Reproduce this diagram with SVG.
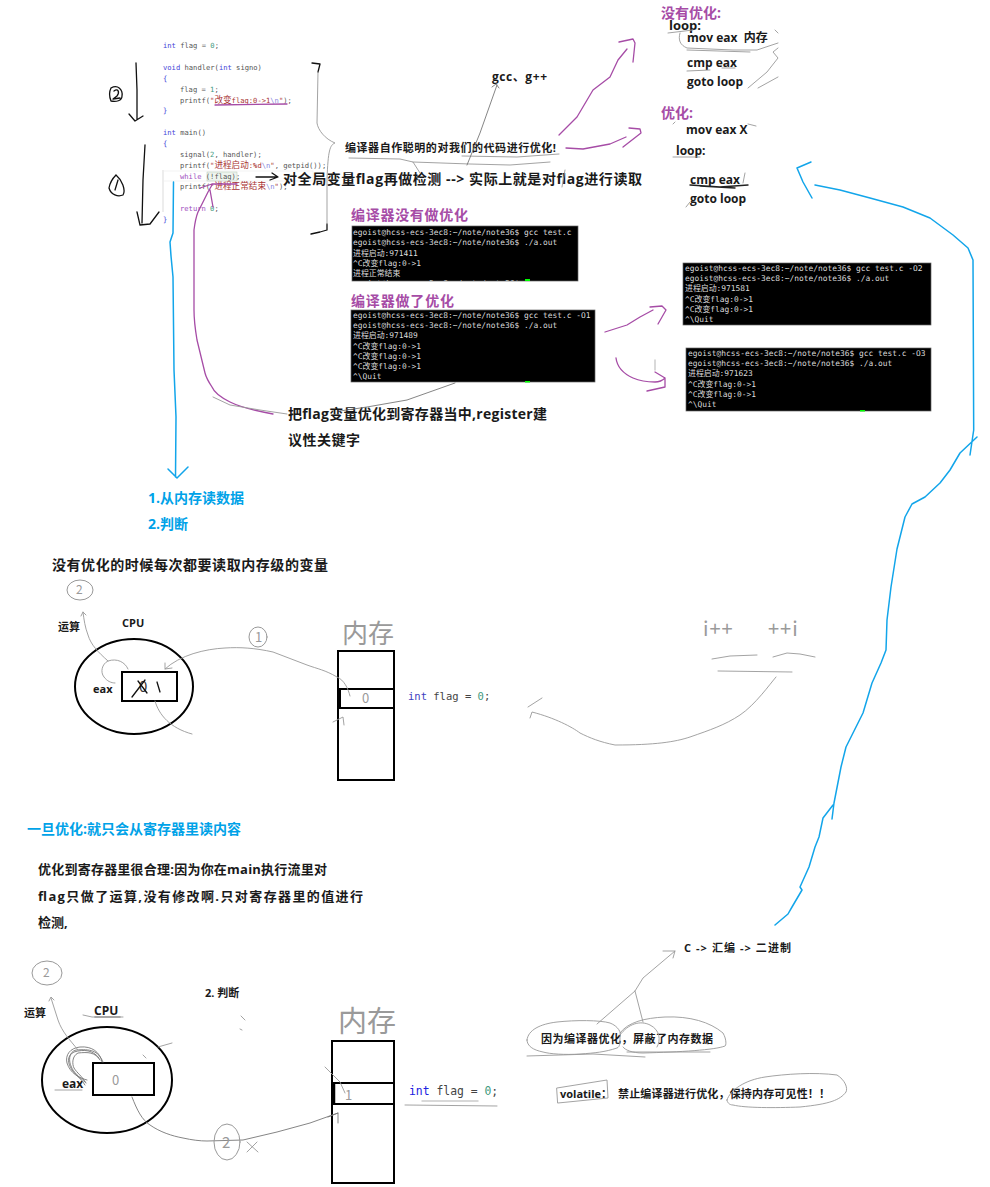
<svg xmlns="http://www.w3.org/2000/svg" width="990" height="1187" viewBox="0 0 990 1187">
<style>
text{white-space:pre}
.b{font-family:"Open Sans","Noto Sans CJK SC","Liberation Sans",sans-serif;font-weight:700;fill:#1a1a1a}
.s14{font-size:14px}.s13{font-size:13px}.s12{font-size:12px}.s11{font-size:11px}
.pur{fill:#a64ca6}.blu{fill:#00a2e8}
.code{font-family:"DejaVu Sans Mono","Noto Sans CJK SC",monospace;font-size:7.15px;fill:#555}
.kw{fill:#4646d8}.kp{fill:#a050c0}.st{fill:#a83232}.nm{fill:#3f9a80}.zh{font-family:"Noto Sans CJK SC",sans-serif;font-size:8.6px}
.term{font-family:"DejaVu Sans Mono","Noto Sans CJK SC",monospace;font-size:7.9px;fill:#dcdcdc}
.tbg{fill:#000;stroke:#666;stroke-width:.7}
.int{font-family:"DejaVu Sans Mono","Liberation Mono",monospace;fill:#444}
.hand{font-family:"Noto Sans CJK SC",sans-serif;fill:#9a9a9a}
.ln{fill:none;stroke-linecap:round;stroke-linejoin:round}
.g{stroke:#999;stroke-width:.9}.gd{stroke:#777;stroke-width:.9}.k{stroke:#111;stroke-width:1.3}
.p{stroke:#a64ca6;stroke-width:1.3}.c{stroke:#12a5ea;stroke-width:1.5}
.box{fill:#fff;stroke:#000;stroke-width:2}.cpu{fill:none;stroke:#000;stroke-width:2}
</style>
<defs><clipPath id="t1c"><rect x="352" y="226" width="226" height="55"/></clipPath></defs>
<rect width="990" height="1187" fill="#fff"/>

<g id="code">
<path d="M163 170V212" stroke="#ccc" stroke-width=".7" fill="none"/><rect x="163" y="171" width="150" height="10" fill="none" stroke="#eee" stroke-width=".7"/>
<rect x="207" y="172" width="30" height="9" fill="#eef4ee" stroke="#b5c5b5" stroke-width=".5"/>
<text class="code" x="163" y="48"><tspan class="kw">int</tspan> flag = <tspan class="nm">0</tspan>;</text>
<text class="code" x="163" y="70"><tspan class="kw">void</tspan> handler(<tspan class="kw">int</tspan> signo)</text>
<text class="code kw" x="163" y="81">{</text>
<text class="code" x="180" y="92">flag = <tspan class="nm">1</tspan>;</text>
<text class="code" x="180" y="103">printf(<tspan class="st">"<tspan class="zh">改变</tspan>flag:0-&gt;1<tspan fill="#8888dd">\n</tspan>"</tspan>);</text>
<text class="code kw" x="163" y="113">}</text>
<text class="code" x="163" y="135"><tspan class="kw">int</tspan> main()</text>
<text class="code kw" x="163" y="146">{</text>
<text class="code" x="180" y="157">signal(<tspan class="nm">2</tspan>, handler);</text>
<text class="code" x="180" y="168">printf(<tspan class="st">"<tspan class="zh">进程启动</tspan>:%d<tspan fill="#8888dd">\n</tspan>"</tspan>, getpid());</text>
<text class="code" x="180" y="179"><tspan class="kp">while</tspan> (!flag);</text>
<text class="code" x="180" y="189">printf(<tspan class="st">"<tspan class="zh">进程正常结束</tspan><tspan fill="#8888dd">\n</tspan>"</tspan>);</text>
<text class="code" x="180" y="211"><tspan class="kp">return</tspan> <tspan class="nm">0</tspan>;</text>
<text class="code kw" x="163" y="222">}</text>
</g>

<g id="labels-top">
<text class="b s12" x="492" y="81" textLength="55">gcc、g++</text>
<text class="b s11" x="345" y="152" textLength="211">编译器自作聪明的对我们的代码进行优化!</text>
<text class="b s14" x="283" y="184" textLength="359">对全局变量flag再做检测 --&gt; 实际上就是对flag进行读取</text>
<text class="b s14 pur" x="351" y="220" textLength="117">编译器没有做优化</text>
<text class="b s14 pur" x="351" y="306" textLength="103">编译器做了优化</text>
<text class="b s14" x="288" y="419" textLength="259">把flag变量优化到寄存器当中,register建</text>
<text class="b s14" x="288" y="445" textLength="72">议性关键字</text>
<text class="b s14 blu" x="148" y="503">1.从内存读数据</text>
<text class="b s14 blu" x="148" y="529">2.判断</text>
<text class="b s14" x="52" y="570" textLength="276">没有优化的时候每次都要读取内存级的变量</text>
</g>

<g id="asm-notes">
<text class="b s14 pur" x="661" y="18">没有优化:</text>
<text class="b s13" x="669" y="30">loop:</text>
<text class="b s12" x="687" y="42">mov eax  内存</text>
<text class="b s12" x="687" y="67">cmp eax</text>
<text class="b s12" x="687" y="86">goto loop</text>
<text class="b s14 pur" x="661" y="118">优化:</text>
<text class="b s12" x="686" y="134">mov eax X</text>
<text class="b s12" x="676" y="155">loop:</text>
<text class="b s12" x="690" y="184">cmp eax</text>
<text class="b s12" x="690" y="203">goto loop</text>
</g>

<g id="term-1">
<rect class="tbg" x="352" y="226" width="226" height="55"/>
<g clip-path="url(#t1c)">
<text class="term" x="353" y="235">egoist@hcss-ecs-3ec8:~/note/note36$ gcc test.c</text>
<text class="term" x="353" y="245">egoist@hcss-ecs-3ec8:~/note/note36$ ./a.out</text>
<text class="term" x="353" y="256">进程启动:971411</text>
<text class="term" x="353" y="266">^C改变flag:0-&gt;1</text>
<text class="term" x="353" y="276">进程正常结束</text>
<text class="term" x="353" y="286">egoist@hcss-ecs-3ec8:~/note/note36$</text>
<rect x="525" y="279" width="5" height="2" fill="#0f0"/>
</g>
</g>
<g id="term-2">
<rect class="tbg" x="351" y="310" width="244" height="72"/>
<text class="term" x="353" y="318">egoist@hcss-ecs-3ec8:~/note/note36$ gcc test.c -O1</text>
<text class="term" x="353" y="328">egoist@hcss-ecs-3ec8:~/note/note36$ ./a.out</text>
<text class="term" x="353" y="338">进程启动:971489</text>
<text class="term" x="353" y="349">^C改变flag:0-&gt;1</text>
<text class="term" x="353" y="359">^C改变flag:0-&gt;1</text>
<text class="term" x="353" y="369">^C改变flag:0-&gt;1</text>
<text class="term" x="353" y="379">^\Quit</text>
<rect x="525" y="381" width="5" height="1.5" fill="#0f0"/>
</g>
<g id="term-3">
<rect class="tbg" x="683" y="263" width="248" height="62"/>
<text class="term" x="685" y="271">egoist@hcss-ecs-3ec8:~/note/note36$ gcc test.c -O2</text>
<text class="term" x="685" y="281">egoist@hcss-ecs-3ec8:~/note/note36$ ./a.out</text>
<text class="term" x="685" y="291">进程启动:971581</text>
<text class="term" x="685" y="302">^C改变flag:0-&gt;1</text>
<text class="term" x="685" y="312">^C改变flag:0-&gt;1</text>
<text class="term" x="685" y="322">^\Quit</text>
</g>
<g id="term-4">
<rect class="tbg" x="686" y="348" width="245" height="63"/>
<text class="term" x="688" y="356">egoist@hcss-ecs-3ec8:~/note/note36$ gcc test.c -O3</text>
<text class="term" x="688" y="366">egoist@hcss-ecs-3ec8:~/note/note36$ ./a.out</text>
<text class="term" x="688" y="376">进程启动:971623</text>
<text class="term" x="688" y="387">^C改变flag:0-&gt;1</text>
<text class="term" x="688" y="397">^C改变flag:0-&gt;1</text>
<text class="term" x="688" y="407">^\Quit</text>
<rect x="860" y="410" width="5" height="1.5" fill="#0f0"/>
</g>

<g id="cpu-1">
<ellipse class="cpu" cx="134" cy="686.5" rx="59" ry="47.5"/>
<rect class="box" x="122" y="672" width="55" height="29"/>
<text class="b s11" x="58" y="631">运算</text>
<text class="b s11" x="122" y="627">CPU</text>
<text class="b s11" x="93" y="693">eax</text>
<text class="hand" x="139" y="692" font-size="15" style="fill:#333">0</text>
<path class="ln k" d="M132 697 145 680M138 681 147 693" stroke-width="1"/>
<path class="ln k" d="M157 682 160 692" stroke-width="1.2"/>
<ellipse cx="80" cy="590" rx="13" ry="10" fill="none" stroke="#999" stroke-width="1"/>
<text class="hand" x="76" y="594" font-size="12">2</text>
</g>
<g id="mem-1">
<rect class="box" x="338" y="651" width="56" height="129"/>
<rect class="box" x="338.5" y="689" width="55.5" height="19"/>
<path d="M340 689V708" stroke="#000" stroke-width="2"/>
<text class="hand" x="362" y="703" font-size="13">0</text>
<text class="hand" x="342" y="643" font-size="26">内存</text>
<text class="int" x="408" y="700" font-size="10.5"><tspan fill="#4040c0">int</tspan> flag = <tspan fill="#3f9a80">0</tspan>;</text>
</g>

<g id="section-2-text">
<text class="b s14 blu" x="27" y="834">一旦优化:就只会从寄存器里读内容</text>
<text class="b s13" x="38" y="874" textLength="289">优化到寄存器里很合理:因为你在main执行流里对</text>
<text class="b s13" x="38" y="901" textLength="325">flag只做了运算,没有修改啊.只对寄存器里的值进行</text>
<text class="b s13" x="38" y="927">检测,</text>
</g>

<g id="cpu-2">
<ellipse class="cpu" cx="107" cy="1080" rx="65" ry="53"/>
<rect class="box" x="93" y="1063" width="61" height="32"/>
<text class="b s11" x="205" y="997">2. 判断</text>
<text class="b s11" x="24" y="1017">运算</text>
<text class="b s12" x="94" y="1015">CPU</text>
<text class="b s12" x="62" y="1088">eax</text>
<text class="hand" x="112" y="1085" font-size="13">0</text>
<ellipse cx="47" cy="973" rx="15" ry="12" fill="none" stroke="#999" stroke-width="1"/>
<text class="hand" x="43" y="977" font-size="12">2</text>
</g>
<g id="mem-2">
<rect class="box" x="332" y="1041" width="62" height="142"/>
<rect class="box" x="332.5" y="1083" width="61.5" height="21"/>
<path d="M334 1083V1104" stroke="#000" stroke-width="2.5"/>
<text class="hand" x="345" y="1100" font-size="13">1</text>
<text class="hand" x="338" y="1032" font-size="29">内存</text>
<text class="int" x="409" y="1095" font-size="11.4"><tspan fill="#2020e0">int</tspan> flag = <tspan fill="#3f9a80">0</tspan>;</text>
</g>

<g id="handnote">
<text class="hand" x="703" y="636" font-size="20" letter-spacing="1">i++</text>
<text class="hand" x="768" y="636" font-size="20" letter-spacing="1">++i</text>
</g>

<g id="notes-bottom">
<text class="b s11" x="684" y="952" textLength="107">C -&gt; 汇编 -&gt; 二进制</text>
<text class="b s11" x="541" y="1043" textLength="172">因为编译器优化，屏蔽了内存数据</text>
<text class="b s11" x="560" y="1098">volatile：</text>
<text class="b s11" x="618" y="1098" textLength="212">禁止编译器进行优化，保持内存可见性！！</text>
</g>

<g id="connectors" class="ln">
<path class="ln k" d="M136 63 137 90 137 119M129 114 135 121 143 116"/>
<path class="ln k" d="M145 145 143 180 142 223M137 212 140 225 150 224 159 212"/>
<path class="ln k" d="M111 88C118 84 123 90 122 96 122 101 116 102 111 101 109 96 109 92 111 88M114 91C118 88 120 92 117 96L113 99 120 98"/>
<path class="ln k" d="M116 175C122 180 126 190 123 195 118 197 111 195 109 188 110 182 113 178 116 175M118 180 115 190"/>
<path class="ln k" d="M256 177H277M272 173 278 177 270 180"/>
<path class="ln k" d="M312 63 320 64 318 72M327 224V230L320 232 311 234"/>
<path class="ln g" d="M318 72 317 123C318 130 325 139 335 143 330 145 328 150 327 180V224" stroke-width="1.1"/>
<path class="ln p" d="M215 105 287 104" stroke-width="1"/>
<path class="ln p" d="M273 414C262 412 240 407 230 402 222 398 214 392 212 387 208 381 206 377 205 373L197 340C195 328 194 318 194 310L194 230C195 222 196 217 198 212L208 192 212 185M200 188 212 184 237 184M210 190 213 207"/>
<path class="ln g" d="M213 397 230 405 260 410 287 414"/>
<path class="ln p" d="M559 135 577 117 593 90 610 77 618 60 627 49M619 42 633 39 635 43 633 62"/>
<path class="ln p" d="M566 148 583 149 610 144 626 137M629 128 640 129 641 133 623 147"/>
<path class="ln p" d="M605 332 627 325 640 317 653 310M650 307 662 306 666 310 658 324"/>
<path class="ln p" d="M616 358C617 366 622 373 633 378 640 381 650 382 655 382 660 382 663 380 665 378M655 372 665 378 665 387 647 391"/>
<path d="M655 360V370" stroke="#ccc" stroke-width="1.5"/>
<path class="ln g" d="M349 158 400 159 413 162 420 173M462 156 517 157 559 154M413 162 470 164 510 165 550 162"/>
<path class="ln gd" d="M467 165 480 133 497 85M492 87 496 84 499 88"/>
<path class="ln g" d="M562 187 565 170"/>
<path class="ln gd" d="M455 383 407 400 367 407 340 411"/>
<path class="ln g" d="M668 33 693 30M775 30 778 33M680 33C678 40 680 45 687 48L733 50 757 50 778 43M687 50 750 52M687 71 710 70M722 68 735 68M748 88 767 72 778 58 773 52 778 48M758 88 778 77M673 124 675 122M748 124 756 126M673 157 700 157M745 173 743 183M686 207 690 202"/>
<path class="ln" d="M690 185 720 187 748 185M700 186 735 188" stroke="#222" stroke-width="1.4"/>
<path class="ln g" d="M128 669C125 662 117 658 108 661 102 664 100 672 104 677 107 681 111 683 115 683M108 661C98 652 91 645 88 635 85 627 84 620 83 612M81 616 83 612 86 615"/>
<path class="ln g" d="M350 696C348 688 344 680 337 677 325 670 318 669 307 665L273 652C255 648 240 647 225 648 205 649 180 655 165 669M165 663V669L172 668"/>
<ellipse cx="258" cy="637" rx="9" ry="10" fill="none" stroke="#999" stroke-width="1"/>
<text class="hand" x="255" y="642" font-size="13">1</text>
<path class="ln g" d="M155 701C159 715 170 728 192 734M333 722 343 717 344 725"/>
<path class="ln gd" d="M102 1062C100 1052 92 1046 80 1047 70 1048 65 1055 67 1063 70 1073 79 1078 87 1080M103 1062C98 1050 90 1049 76 1050 68 1052 69 1062 71 1066 73 1072 80 1078 85 1082M100 1060C95 1052 88 1052 78 1053 72 1056 72 1064 74 1068 77 1073 82 1076 86 1083M99 1058C93 1050 84 1049 74 1052 66 1056 68 1064 72 1070 76 1076 82 1079 85 1085"/>
<path class="ln g" d="M78 1050C70 1040 62 1032 58 1020L51 998M49 1001 51 997 54 1000"/>
<path class="ln g" d="M83 1015 92 1017 123 1017M55 1090H82M158 1047 172 1043M241 1016 245 1020M240 1029 242 1030M143 1055 146 1058"/>
<path d="M95 1017H120" stroke="#999" stroke-width="1.6"/>
<path class="ln gd" d="M132 1097C137 1110 142 1120 150 1125 160 1132 172 1136 183 1138 192 1140 200 1141 207 1141L243 1140 277 1132 310 1123 338 1113M338 1123 338 1113 328 1117"/>
<ellipse cx="227" cy="1142" rx="13" ry="18" fill="none" stroke="#999" stroke-width="1"/>
<text class="hand" x="222" y="1148" font-size="15">2</text>
<path class="ln g" d="M247 1142 258 1152M247 1152 257 1142M325 1067 340 1082 345 1093M405 1105 497 1106"/>
<path d="M422 1101H478" stroke="#ccc" stroke-width="1.5"/>
<path class="ln g" d="M712 659 730 656 757 655M773 657 787 653 800 654 815 657M718 671 792 672M776 677C770 684 755 705 740 715 725 725 710 730 690 737 675 742 655 745 615 745 600 742 590 738 580 733 572 727 555 718 532 712L530 718M528 707 542 698"/>
<path class="ln g" d="M597 1024 635 991 643 978 675 951M663 951 675 951 673 958M635 991 643 1022"/>
<path class="ln g" d="M527 1040C528 1030 540 1024 557 1022 575 1020 600 1020 610 1023 618 1026 622 1033 620 1037 620 1043 620 1047 617 1048 605 1052 595 1053 580 1054 565 1055 550 1054 543 1052 533 1050 527 1046 527 1040ZM620 1033C628 1022 645 1018 665 1017 690 1016 710 1022 723 1033 727 1040 726 1046 725 1046 715 1050 680 1052 643 1053 632 1053 625 1050 623 1047M620 1035C628 1024 640 1020 650 1025 660 1030 661 1040 657 1047M527 1056 593 1054 645 1057M627 1052 710 1052"/>
<path class="ln g" d="M557 1088 607 1080 608 1098 558 1103ZM727 1100C730 1090 745 1080 765 1077 785 1074 815 1072 837 1075 845 1080 848 1088 846 1092 840 1100 830 1104 800 1107 775 1108 745 1108 733 1105 729 1105 727 1102 727 1100Z"/>
<path class="ln c" d="M173.5 182 173 233 170 242 171 256 173 277 174 370 176 417 175.5 477M168 469 177 478 188 467"/>
<path class="ln c" d="M815 185 840 190 870 198 903 207 930 218 953 235 968 248 973 260 973.7 430 970 455M977 437 960 453 950 470 940 483 925 497 912 504 905 517 897 549 891 587 887 620 886 650 881 663 872 683 863 713 853 733 846 747 841 767 834 803 832 819M833 805 823 818 819 837 815 847 809 867 800 887 802 890 792 907 788 914 775 925M811 162 797 168 803 182 812 198"/>
</g>
</svg>
